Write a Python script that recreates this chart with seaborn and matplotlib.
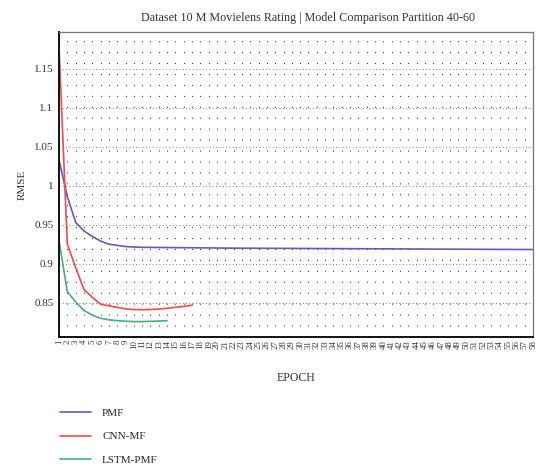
import numpy as np
import pandas as pd
import matplotlib
matplotlib.use("Agg")
import matplotlib.pyplot as plt
import seaborn as sns
from matplotlib.ticker import FuncFormatter, FixedLocator

# ---- data ----
epochs_pmf = list(range(1, 59))
rmse_pmf = [1.033, 0.986, 0.953, 0.942, 0.935, 0.929, 0.925, 0.9235, 0.922, 0.9214,
            0.9210, 0.9209, 0.9208, 0.9207, 0.9206, 0.9205, 0.9204, 0.9203, 0.9202, 0.9201,
            0.9200, 0.9199, 0.9199, 0.9198, 0.9198, 0.9197, 0.9197, 0.9196, 0.9196, 0.9195,
            0.9195, 0.9194, 0.9194, 0.9193, 0.9193, 0.9192, 0.9192, 0.9191, 0.9191, 0.9190,
            0.9190, 0.9189, 0.9189, 0.9188, 0.9188, 0.9187, 0.9187, 0.9186, 0.9186, 0.9185,
            0.9185, 0.9184, 0.9184, 0.9183, 0.9183, 0.9182, 0.9182, 0.9181]
epochs_cnn = list(range(1, 18))
rmse_cnn = [1.178, 0.925, 0.895, 0.867, 0.857, 0.848, 0.846, 0.844, 0.842, 0.8412,
            0.8410, 0.8412, 0.8418, 0.8428, 0.8440, 0.8452, 0.8468]
epochs_lstm = list(range(1, 15))
rmse_lstm = [0.930, 0.864, 0.851, 0.840, 0.834, 0.830, 0.828, 0.827, 0.8262, 0.8258,
             0.8258, 0.8261, 0.8265, 0.8270]
models = ["PMF", "CNN-MF", "LSTM-PMF"]
colors = ["#5c5cc8", "#f04a4a", "#44b377"]
y_ticks = [0.85, 0.9, 0.95, 1.0, 1.05, 1.1, 1.15]
x_ticks = list(range(1, 59))

df = pd.concat([
    pd.DataFrame({"EPOCH": epochs_pmf, "RMSE": rmse_pmf, "Model": models[0]}),
    pd.DataFrame({"EPOCH": epochs_cnn, "RMSE": rmse_cnn, "Model": models[1]}),
    pd.DataFrame({"EPOCH": epochs_lstm, "RMSE": rmse_lstm, "Model": models[2]}),
])

sns.set_style("white")
plt.rcParams["font.family"] = ["Liberation Serif", "DejaVu Serif"]

fig = plt.figure(figsize=(5.38, 4.66), dpi=100)
ax = fig.add_axes([0.1097, 0.2768, 0.881, 0.6545])

sns.lineplot(data=df, x="EPOCH", y="RMSE", hue="Model", hue_order=models,
             palette=dict(zip(models, colors)), linewidth=1.2, ax=ax, legend=False)

ax.set_xlim(1, 58)
ax.set_ylim(0.806, 1.197)

ax.xaxis.set_major_locator(FixedLocator(x_ticks))
ax.yaxis.set_major_locator(FixedLocator(y_ticks))
ax.yaxis.set_major_formatter(FuncFormatter(lambda v, p: f"{v:g}"))
ax.tick_params(axis="x", labelsize=6.3, rotation=90, length=0, pad=2, labelcolor="#333333")
ax.tick_params(axis="y", labelsize=8, length=0, pad=4, labelcolor="#333333")

# dotted grid
ax.grid(axis="x", color="#333333", linestyle=(0, (1, 9.5)), linewidth=0.75)
ax.grid(axis="y", color="#555555", linestyle=(0, (1, 3)), linewidth=0.6)
ax.set_axisbelow(True)

for s in ["left", "bottom"]:
    ax.spines[s].set_color("#111111")
    ax.spines[s].set_linewidth(1.4)
for s in ["top", "right"]:
    ax.spines[s].set_color("#777777")
    ax.spines[s].set_linewidth(0.9)

ax.set_title("Dataset 10 M Movielens Rating | Model Comparison Partition 40-60",
             fontsize=8.7, color="#333333", pad=8, x=0.526)
ax.set_xlabel("EPOCH", fontsize=8.5, color="#333333", labelpad=17)
ax.set_ylabel("RMSE", fontsize=8, color="#333333", labelpad=5)

handles = [plt.Line2D([], [], color=c, linewidth=1.2) for c in colors]
fig.legend(handles, models, loc="upper left", bbox_to_anchor=(0.103, 0.134),
           frameon=False, fontsize=8, handlelength=2.8, handletextpad=1.0,
           labelspacing=1.25, borderaxespad=0)

fig.savefig("out.png", dpi=100)
